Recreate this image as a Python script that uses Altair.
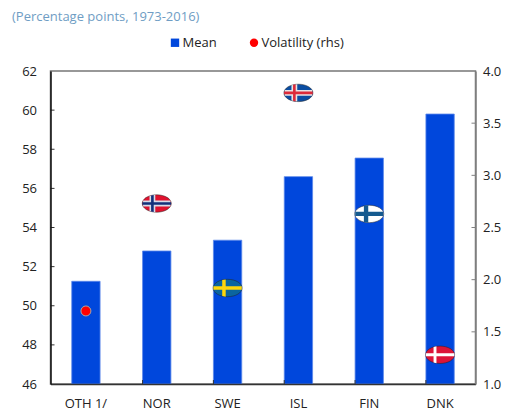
import math
import altair as alt
import pandas as pd

categories = ["OTH 1/", "NOR", "SWE", "ISL", "FIN", "DNK"]
mean_values = [51.25, 52.8, 53.35, 56.6, 57.55, 59.8]
volatility = [1.70, 2.73, 1.92, 3.79, 2.63, 1.28]
left_ticks = [48, 50, 52, 54, 56, 58, 60]
right_ticks = [1.5, 2.0, 2.5, 3.0, 3.5]
series_names = ["Mean", "Volatility (rhs)"]

BLUE = "#0047DC"
RED = "#FF0000"
FONT = "Open Sans"
FLAG_SIZE = 29 ** 2
RY = 0.6


def ellipse_x(y):
    return math.sqrt(max(0.0, 1 - (y / RY) ** 2))


def ellipse_y(x):
    return RY * math.sqrt(max(0.0, 1 - x ** 2))


def poly(points):
    return "M" + " L".join(f"{x:.3f},{y:.3f}" for x, y in points) + " Z"


ELLIPSE = f"M-1,0 A1,{RY} 0 1 1 1,0 A1,{RY} 0 1 1 -1,0 Z"


def cross(cx, hw):
    hh = hw
    h = poly([(-ellipse_x(hh), -hh), (ellipse_x(hh), -hh), (ellipse_x(hh), hh), (-ellipse_x(hh), hh)])
    l, r = cx - hw, cx + hw
    v = poly([(l, -ellipse_y(l)), (r, -ellipse_y(r)), (r, ellipse_y(r)), (l, ellipse_y(l))])
    return h + " " + v


flags = {
    "NOR": ("#E0122F", [(-0.3, 0.20, "#D8DCE8"), (-0.3, 0.09, "#12307A")]),
    "SWE": ("#0B659F", [(-0.25, 0.12, "#FFD60A")]),
    "ISL": ("#0B4DA2", [(-0.28, 0.2, "#E8E4E4"), (-0.28, 0.09, "#DC2B3A")]),
    "FIN": ("#FFFFFF", [(-0.22, 0.15, "#155A8F")]),
    "DNK": ("#DC1438", [(-0.35, 0.1, "#FFFFFF")]),
}

df = pd.DataFrame({"cat": categories, "mean": mean_values, "vol": volatility, "base": [46] * 6})
x_scale = alt.Scale(domain=categories, paddingInner=0.6, paddingOuter=0.3)
y_scale = alt.Scale(domain=[46, 62], nice=False, zero=False)
r_scale = alt.Scale(domain=[1.0, 4.0], nice=False, zero=False)

x_axis = alt.Axis(labelAngle=0, ticks=False, labelPadding=13, domainColor="#333333",
                  domainWidth=1.5, zindex=1, labelFontSize=13, labelColor="#222222", labelFont=FONT)
x_enc = alt.X("cat:N", scale=x_scale, sort=categories, title=None, axis=x_axis)

bars = alt.Chart(df).mark_bar(color=BLUE, stroke="#5C88EA", strokeWidth=0.8).encode(
    x=x_enc,
    y=alt.Y("mean:Q", scale=y_scale, title=None,
            axis=alt.Axis(values=[46] + left_ticks + [62], ticks=False, labelPadding=14, grid=False,
                          domainColor="#111111", domainWidth=1.5, zindex=1, labelFontSize=13,
                          labelColor="#222222", labelFont=FONT)),
    y2=alt.Y2("base:Q"),
)

x_ticks = alt.Chart(df.iloc[1:]).mark_rule(color="#333333", strokeWidth=1).encode(
    x=alt.X("cat:N", scale=x_scale, sort=categories, title=None, axis=x_axis, bandPosition=0),
    y=alt.value(309), y2=alt.value(313),
)
l_ticks = alt.Chart(pd.DataFrame({"v": left_ticks})).mark_rule(color="#333333", strokeWidth=1).encode(
    y=alt.Y("v:Q", scale=y_scale, axis=None), x=alt.value(0), x2=alt.value(4),
)
r_ticks = alt.Chart(pd.DataFrame({"v": right_ticks})).mark_rule(color="#808080", strokeWidth=1).encode(
    y=alt.Y("v:Q", scale=r_scale, axis=None), x=alt.value(421), x2=alt.value(425),
)

r_axis_layer = alt.Chart(df).mark_point(opacity=0).encode(
    x=x_enc,
    y=alt.Y("vol:Q", scale=r_scale, title=None,
            axis=alt.Axis(orient="right", values=[1.0] + right_ticks + [4.0], format=".1f", ticks=False,
                          labelPadding=7, grid=False, domainColor="#808080", domainWidth=1.5, zindex=1,
                          labelFontSize=13, labelColor="#222222", labelFont=FONT)),
)

dot_df = df.iloc[[0]].assign(series=series_names[1])
dot = alt.Chart(dot_df).mark_point(filled=True, size=100, stroke="#A8A8A8", strokeWidth=1, opacity=1).encode(
    x=x_enc,
    y=alt.Y("vol:Q", scale=r_scale, axis=None),
    color=alt.Color("series:N", title=None,
                    scale=alt.Scale(domain=series_names, range=[BLUE, RED]),
                    legend=alt.Legend(orient="none", legendX=118, legendY=-35, direction="horizontal",
                                      columns=2, columnPadding=30, symbolSize=70, symbolStrokeWidth=0,
                                      labelFontSize=13, labelFont=FONT, labelColor="#222222",
                                      labelOffset=1)),
    shape=alt.Shape("series:N", title=None, scale=alt.Scale(domain=series_names, range=["square", "circle"])),
)

layers = [bars, x_ticks, l_ticks, r_ticks, r_axis_layer, dot]
for name, (base, parts) in flags.items():
    row = df[df.cat == name]
    enc = dict(x=x_enc, y=alt.Y("vol:Q", scale=r_scale, axis=None))
    layers.append(alt.Chart(row).mark_point(shape=ELLIPSE, filled=True, fill=base, stroke="#222222",
                                            strokeWidth=0.5, size=FLAG_SIZE, opacity=1).encode(**enc))
    for cx, hw, colr in parts:
        layers.append(alt.Chart(row).mark_point(shape=cross(cx, hw), filled=True, fill=colr, strokeWidth=0,
                                                size=FLAG_SIZE, opacity=1).encode(**enc))

chart = (
    alt.layer(*layers)
    .resolve_scale(y="independent")
    .properties(
        width=425, height=313,
        padding={"left": 42.5, "top": 63, "right": 27, "bottom": 28},
        autosize=alt.AutoSizeParams(type="none"),
        title=alt.TitleParams("(Percentage points, 1973-2016)", anchor="start", frame="group", dx=-38.5,
                              offset=12, font=FONT, fontSize=13, fontWeight="normal", color="#6F9DC4"),
    )
    .configure_view(stroke="#777777", strokeWidth=1.5)
)

chart.save("out.html", embed_options={"renderer": "svg", "actions": False})
